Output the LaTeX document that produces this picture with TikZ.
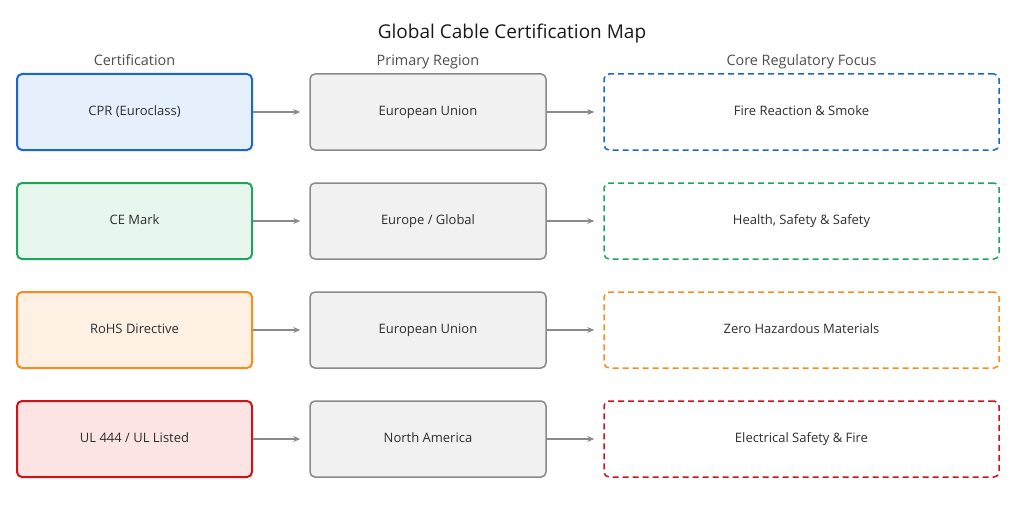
\documentclass[tikz,border=0pt]{standalone}
\usepackage{fontspec}
\setmainfont{Open Sans}
\usetikzlibrary{arrows.meta}

\definecolor{bluebd}{HTML}{1A66D2}
\definecolor{bluefill}{HTML}{E6F0FD}
\definecolor{greenbd}{HTML}{1FA55A}
\definecolor{greenfill}{HTML}{E7F7EE}
\definecolor{orangebd}{HTML}{F98C1E}
\definecolor{orangefill}{HTML}{FEF1E3}
\definecolor{redbd}{HTML}{D0131A}
\definecolor{redfill}{HTML}{FCE4E4}
\definecolor{graybd}{HTML}{8A8A8A}
\definecolor{grayfill}{HTML}{F1F1F1}
\definecolor{txt}{HTML}{2E2E2E}

\begin{document}
\begin{tikzpicture}[
    x=1pt, y=-1pt,
    cert/.style={rectangle, rounded corners=5pt, line width=2pt, minimum width=235pt, minimum height=76pt, text height=9.5pt, text depth=3pt, font=\fontsize{13}{15}\selectfont, text=txt},
    region/.style={rectangle, rounded corners=5pt, draw=graybd, fill=grayfill, line width=1.5pt, minimum width=236pt, minimum height=76pt, text height=9.5pt, text depth=3pt, font=\fontsize{13}{15}\selectfont, text=txt},
    focus/.style={rectangle, rounded corners=5pt, dashed, dash pattern=on 6pt off 4pt, line width=1.5pt, minimum width=395pt, minimum height=76pt, text height=9.5pt, text depth=3pt, font=\fontsize{13}{15}\selectfont, text=txt},
    header/.style={font=\fontsize{14.4}{17}\selectfont, text height=10.5pt, text depth=3.5pt, text=txt!85},
    arrow/.style={-{Stealth[length=7pt, width=6pt]}, draw=graybd, line width=1.5pt}
]
\useasboundingbox (0,0) rectangle (1024,508);

\node[font=\fontsize{19}{22}\selectfont, text=black!90] (title) at (512,34) {Global Cable Certification Map};

\node[header] (hcert) at (134.5,62) {Certification};
\node[header] (hregion) at (428,62) {Primary Region};
\node[header] (hfocus) at (801.5,62) {Core Regulatory Focus};

% row 1
\node[cert, draw=bluebd, fill=bluefill] (cpr) at (134.5,112) {CPR (Euroclass)};
\node[region] (eu1) at (428,112) {European Union};
\node[focus, draw=bluebd] (fire) at (801.5,112) {Fire Reaction \& Smoke};

% row 2
\node[cert, draw=greenbd, fill=greenfill] (ce) at (134.5,221) {CE Mark};
\node[region] (eg) at (428,221) {Europe / Global};
\node[focus, draw=greenbd] (health) at (801.5,221) {Health, Safety \& Safety};

% row 3
\node[cert, draw=orangebd, fill=orangefill] (rohs) at (134.5,330) {RoHS Directive};
\node[region] (eu2) at (428,330) {European Union};
\node[focus, draw=orangebd] (zero) at (801.5,330) {Zero Hazardous Materials};

% row 4
\node[cert, draw=redbd, fill=redfill] (ul) at (134.5,439) {UL 444 / UL Listed};
\node[region] (na) at (428,439) {North America};
\node[focus, draw=redbd] (elec) at (801.5,439) {Electrical Safety \& Fire};

\draw[arrow, shorten >=9pt] (cpr) -- (eu1);
\draw[arrow, shorten >=9pt] (eu1) -- (fire);
\draw[arrow, shorten >=9pt] (ce) -- (eg);
\draw[arrow, shorten >=9pt] (eg) -- (health);
\draw[arrow, shorten >=9pt] (rohs) -- (eu2);
\draw[arrow, shorten >=9pt] (eu2) -- (zero);
\draw[arrow, shorten >=9pt] (ul) -- (na);
\draw[arrow, shorten >=9pt] (na) -- (elec);

\end{tikzpicture}
\end{document}
